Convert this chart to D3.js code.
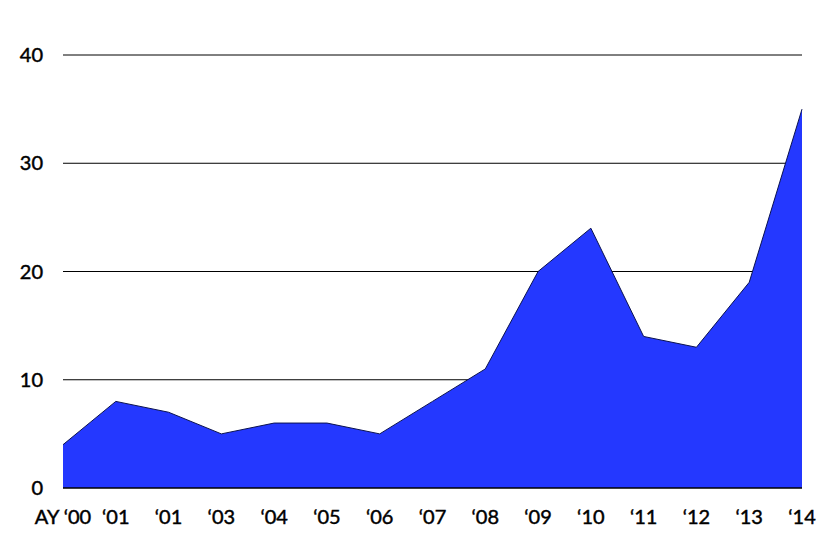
<!DOCTYPE html>
<html><head><meta charset="utf-8">
<script src="https://cdn.jsdelivr.net/npm/d3@7"></script>
<style>body{margin:0;background:#fff}text{font-family:"Lato","Open Sans",sans-serif;fill:#000;stroke:#000;stroke-width:0.45px}</style>
</head><body>
<svg id="c" width="840" height="557"></svg>
<script>
const categories = ["AY \u201800","\u201801","\u201801","\u201803","\u201804","\u201805","\u201806","\u201807","\u201808","\u201809","\u201810","\u201811","\u201812","\u201813","\u201814"];
const values = [4, 8, 7, 5, 6, 6, 5, 8, 11, 20, 24, 14, 13, 19, 35];
const yTicks = [0, 10, 20, 30, 40];

const svg = d3.select("#c");
const x = d3.scalePoint().domain(d3.range(categories.length)).range([63, 802]);
const y = d3.scaleLinear().domain([0, 40]).range([488, 55]);

svg.selectAll("line.grid").data(yTicks.filter(d => d > 0)).join("line")
  .attr("x1", 63).attr("x2", 802)
  .attr("y1", d => y(d)).attr("y2", d => y(d))
  .attr("stroke", "#000").attr("stroke-width", 1);

const area = d3.area().x((d, i) => x(i)).y0(y(0)).y1(d => y(d));
svg.append("path").datum(values).attr("d", area).attr("fill", "#2438ff");
const line = d3.line().x((d, i) => x(i)).y(d => y(d));
svg.append("path").datum(values).attr("d", line).attr("fill", "none").attr("stroke", "#0a1250").attr("stroke-width", 1);

svg.append("line").attr("x1", 63).attr("x2", 802).attr("y1", y(0)).attr("y2", y(0)).attr("stroke", "#000").attr("stroke-width", 1.5);

svg.selectAll("text.yl").data(yTicks).join("text")
  .attr("x", 43).attr("y", d => y(d)).attr("dy", "0.35em")
  .attr("text-anchor", "end").attr("font-size", 20).text(d => d);

svg.selectAll("text.xl").data(categories).join("text")
  .attr("x", (d, i) => x(i)).attr("y", 524)
  .attr("text-anchor", "middle").attr("font-size", 20).text(d => d);
</script>
</body></html>
